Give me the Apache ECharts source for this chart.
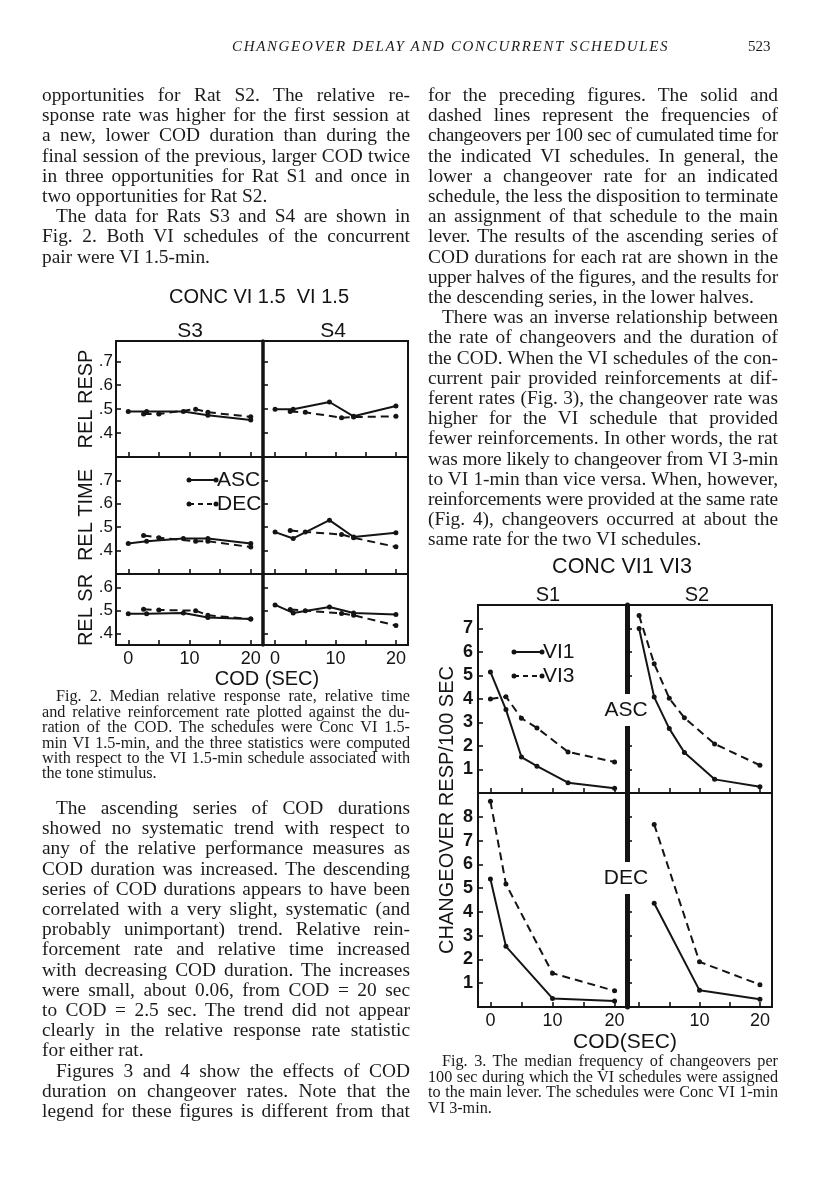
<!DOCTYPE html>
<html>
<head>
<meta charset="utf-8">
<script src="https://cdn.jsdelivr.net/npm/echarts@6/dist/echarts.min.js"></script>
<style>
  body { margin: 0; background: #fff; }
  #page { position: relative; width: 816px; height: 1200px; overflow: hidden;
          font-family: 'Liberation Serif', 'DejaVu Serif', serif; color: #1b1b1b; }
  .ln { position: absolute; text-align: justify; }
  #chart { position: absolute; left: 0; top: 0; width: 816px; height: 1200px; }
</style>
</head>
<body>
<div id="page">
  <div id="chart"></div>
</div>
<script>
// Fig. 2 -- median relative measures for S3 and S4 (COD in sec)
const f2AscCod = [0, 3, 9, 13, 20];
const f2DecCod = [2.5, 5, 11, 13, 20];
const s3RespAsc = [0.49, 0.49, 0.49, 0.475, 0.455];
const s3RespDec = [0.48, 0.48, 0.50, 0.487, 0.468];
const s4RespAsc = [0.50, 0.50, 0.53, 0.47, 0.513];
const s4RespDec = [0.49, 0.487, 0.464, 0.467, 0.47];
const s3TimeAsc = [0.43, 0.44, 0.452, 0.452, 0.43];
const s3TimeDec = [0.465, 0.455, 0.44, 0.44, 0.415];
const s4TimeAsc = [0.479, 0.452, 0.53, 0.458, 0.476];
const s4TimeDec = [0.486, 0.48, 0.469, 0.455, 0.416];
const s3SrAsc = [0.486, 0.486, 0.49, 0.47, 0.463];
const s3SrDec = [0.506, 0.503, 0.50, 0.48, 0.463];
const s4SrAsc = [0.525, 0.49, 0.516, 0.49, 0.483];
const s4SrDec = [0.505, 0.50, 0.488, 0.48, 0.435];
const relTicks = [0.4, 0.5, 0.6, 0.7];
const srTicks = [0.4, 0.5, 0.6];

// Fig. 3 -- changeovers per 100 sec, S1 and S2
const f3AscCod = [0, 2.5, 5, 7.5, 12.5, 20];
const s1AscVI1 = [5.15, 3.55, 1.53, 1.14, 0.44, 0.2];
const s1AscVI3 = [4.0, 4.1, 3.18, 2.77, 1.75, 1.32];
const s2AscVI1 = [7.0, 4.08, 2.74, 1.72, 0.58, 0.27];
const s2AscVI3 = [7.55, 5.5, 4.03, 3.2, 2.09, 1.18];
const s1DecCod = [0, 2.5, 10, 20];
const s1DecVI1 = [5.38, 2.55, 0.36, 0.25];
const s1DecVI3 = [8.65, 5.17, 1.42, 0.68];
const s2DecCod = [2.5, 10, 20];
const s2DecVI1 = [4.36, 0.7, 0.33];
const s2DecVI3 = [7.68, 1.9, 0.94];
const ascTicks = [1, 2, 3, 4, 5, 6, 7];
const decTicks = [1, 2, 3, 4, 5, 6, 7, 8];
const codTicks = [0, 5, 10, 15, 20];
const codLabels = [0, 10, 20];

const INK = '#141414';
const SANS = "'Liberation Sans', 'DejaVu Sans', sans-serif";
const SERIF = "'Liberation Serif', 'DejaVu Serif', serif";

// ---------- page text ----------
const paras = [
  { x: 42, y: 95, w: 368, indent: 0, lines: [
    'opportunities for Rat S2. The relative re-',
    'sponse rate was higher for the first session at',
    'a new, lower COD duration than during the',
    'final session of the previous, larger COD twice',
    'in three opportunities for Rat S1 and once in',
    'two opportunities for Rat S2.'] },
  { x: 42, y: 95 + 6 * 20.2, w: 368, indent: 14, lines: [
    'The data for Rats S3 and S4 are shown in',
    'Fig. 2. Both VI schedules of the concurrent',
    'pair were VI 1.5-min.'] },
  { x: 42, y: 697, w: 368, indent: 14, small: true, lines: [
    'Fig. 2. Median relative response rate, relative time',
    'and relative reinforcement rate plotted against the du-',
    'ration of the COD. The schedules were Conc VI 1.5-',
    'min VI 1.5-min, and the three statistics were computed',
    'with respect to the VI 1.5-min schedule associated with',
    'the tone stimulus.'] },
  { x: 42, y: 808, w: 368, indent: 14, lines: [
    'The ascending series of COD durations',
    'showed no systematic trend with respect to',
    'any of the relative performance measures as',
    'COD duration was increased. The descending',
    'series of COD durations appears to have been',
    'correlated with a very slight, systematic (and',
    'probably unimportant) trend. Relative rein-',
    'forcement rate and relative time increased',
    'with decreasing COD duration. The increases',
    'were small, about 0.06, from COD = 20 sec',
    'to COD = 2.5 sec. The trend did not appear',
    'clearly in the relative response rate statistic',
    'for either rat.'] },
  { x: 42, y: 808 + 13 * 20.2, w: 368, indent: 14, open: true, lines: [
    'Figures 3 and 4 show the effects of COD',
    'duration on changeover rates. Note that the',
    'legend for these figures is different from that'] },
  { x: 428, y: 95, w: 350, indent: 0, lines: [
    'for the preceding figures. The solid and',
    'dashed lines represent the frequencies of',
    'changeovers per 100 sec of cumulated time for',
    'the indicated VI schedules. In general, the',
    'lower a changeover rate for an indicated',
    'schedule, the less the disposition to terminate',
    'an assignment of that schedule to the main',
    'lever. The results of the ascending series of',
    'COD durations for each rat are shown in the',
    'upper halves of the figures, and the results for',
    'the descending series, in the lower halves.'] },
  { x: 428, y: 95 + 11 * 20.2, w: 350, indent: 14, lines: [
    'There was an inverse relationship between',
    'the rate of changeovers and the duration of',
    'the COD. When the VI schedules of the con-',
    'current pair provided reinforcements at dif-',
    'ferent rates (Fig. 3), the changeover rate was',
    'higher for the VI schedule that provided',
    'fewer reinforcements. In other words, the rat',
    'was more likely to changeover from VI 3-min',
    'to VI 1-min than vice versa. When, however,',
    'reinforcements were provided at the same rate',
    '(Fig. 4), changeovers occurred at about the',
    'same rate for the two VI schedules.'] },
  { x: 428, y: 1062, w: 350, indent: 14, small: true, lines: [
    'Fig. 3. The median frequency of changeovers per',
    '100 sec during which the VI schedules were assigned',
    'to the main lever. The schedules were Conc VI 1-min',
    'VI 3-min.'] }
];

const ctx = document.createElement('canvas').getContext('2d');
function textWidth(txt, size, style) {
  ctx.font = (style || '') + ' ' + size + 'px ' + SERIF;
  return ctx.measureText(txt).width;
}
// pick a size so that the justified lines are filled with ordinary word spacing
function fitSize(small) {
  const fits = [];
  paras.filter(p => !!p.small === small).forEach(p => p.lines.forEach((t, i) => {
    if (i === p.lines.length - 1 && !p.open) return;
    const w = p.w - (i === 0 ? p.indent : 0);
    fits.push(10 * w / textWidth(t, 10));
  }));
  fits.sort((a, b) => a - b);
  return fits[Math.floor(fits.length * 0.2)] * 0.99;
}
const bodySize = fitSize(false), capSize = fitSize(true);

const page = document.getElementById('page');
function addLine(txt, x, y, w, size, lh, justify, extra) {
  const d = document.createElement('div');
  d.className = 'ln';
  d.textContent = txt;
  Object.assign(d.style, { left: x + 'px', top: (y - lh / 2) + 'px', width: w + 'px',
    fontSize: size + 'px', lineHeight: lh + 'px', textAlignLast: justify ? 'justify' : 'left' }, extra || {});
  page.appendChild(d);
  const nat = textWidth(txt, size, extra && extra.fontStyle);
  if (nat > w - 1) d.style.letterSpacing = ((w - 1 - nat) / txt.length) + 'px';
  return d;
}
paras.forEach(p => {
  const size = p.small ? capSize : bodySize, lh = p.small ? 15.4 : 20.2;
  p.lines.forEach((t, i) => {
    const ind = i === 0 ? p.indent : 0;
    const last = i === p.lines.length - 1 && !p.open;
    addLine(t, p.x + ind, p.y + i * lh, p.w - ind, size, lh, !last);
  });
});
const head = 'CHANGEOVER DELAY AND CONCURRENT SCHEDULES';
addLine(head, 232, 46, 440, 15, 20, false,
  { fontStyle: 'italic', letterSpacing: ((436 - textWidth(head, 15, 'italic')) / (head.length - 1)) + 'px' });
addLine('523', 748, 46, 30, 15, 20, false);

// ---------- charts ----------
const grid = [], xAxis = [], yAxis = [], series = [];

function panel(box, yRange, yLabels, xLabels, divider, lines, fig3) {
  const i = grid.length;
  grid.push({ left: box[0], top: box[1], width: box[2], height: box[3], show: true,
    borderColor: INK, borderWidth: 2, backgroundColor: 'transparent' });
  xAxis.push({
    type: 'value', gridIndex: i, min: -2, max: 22, position: 'bottom',
    axisLine: { show: false, onZero: false }, splitLine: { show: false },
    axisTick: { show: true, inside: true, length: 5, customValues: codTicks, lineStyle: { color: INK, width: 1.6 } },
    axisLabel: xLabels ? { show: true, customValues: xLabels, margin: 5, color: INK,
      fontSize: 18, fontFamily: SANS } : { show: false }
  });
  const tickVals = fig3 ? fig3 : relTicks.filter(v => v > yRange[0] && v < yRange[1]);
  yAxis.push({
    type: 'value', gridIndex: i, min: yRange[0], max: yRange[1], position: 'left',
    axisLine: { show: !!divider, onZero: false, lineStyle: { color: INK, width: divider || 1 } },
    splitLine: { show: false },
    axisTick: { show: true, inside: true, length: 5, customValues: tickVals,
      lineStyle: { color: INK, width: 1.6 } },
    axisLabel: yLabels ? { show: true, customValues: yLabels, margin: fig3 ? 5 : 3, color: INK,
      fontSize: fig3 ? 18 : 17, fontWeight: fig3 ? 'bold' : 'normal', fontFamily: SANS,
      formatter: v => fig3 ? String(v) : v.toFixed(1).replace(/^0/, '') } : { show: false }
  });
  lines.forEach(l => series.push({
    type: 'line', xAxisIndex: i, yAxisIndex: i, animation: false,
    data: l.x.map((v, k) => [v, l.y[k]]),
    symbol: 'circle', symbolSize: 5, showSymbol: true, clip: false,
    lineStyle: { color: INK, width: 2, type: l.dash ? [8, 5] : 'solid' },
    itemStyle: { color: INK }
  }));
}
const A = (x, y) => ({ x, y });
const D = (x, y) => ({ x, y, dash: true });

// Fig. 2 panels
const L2 = 116, R2 = 263;
panel([L2, 341, 147, 116], [0.30, 0.785], relTicks, null, 0, [A(f2AscCod, s3RespAsc), D(f2DecCod, s3RespDec)]);
panel([R2, 341, 145, 116], [0.30, 0.785], null, null, 3.5, [A(f2AscCod, s4RespAsc), D(f2DecCod, s4RespDec)]);
panel([L2, 457, 147, 117], [0.30, 0.80], relTicks, null, 0, [A(f2AscCod, s3TimeAsc), D(f2DecCod, s3TimeDec)]);
panel([R2, 457, 145, 117], [0.30, 0.80], null, null, 3.5, [A(f2AscCod, s4TimeAsc), D(f2DecCod, s4TimeDec)]);
panel([L2, 574, 147, 71], [0.35, 0.66], srTicks, codLabels, 0, [A(f2AscCod, s3SrAsc), D(f2DecCod, s3SrDec)]);
panel([R2, 574, 145, 71], [0.35, 0.66], null, codLabels, 3.5, [A(f2AscCod, s4SrAsc), D(f2DecCod, s4SrDec)]);

// Fig. 3 panels
const L3 = 478, R3 = 627;
panel([L3, 605, 149, 188], [0, 8], ascTicks, null, 0, [A(f3AscCod, s1AscVI1), D(f3AscCod, s1AscVI3)], ascTicks);
panel([R3, 605, 145, 188], [0, 8], null, null, 5, [A(f3AscCod, s2AscVI1), D(f3AscCod, s2AscVI3)], ascTicks);
panel([L3, 793, 149, 214], [0, 9], decTicks, codLabels, 0, [A(s1DecCod, s1DecVI1), D(s1DecCod, s1DecVI3)], decTicks);
panel([R3, 793, 145, 214], [0, 9], null, [10, 20], 5, [A(s2DecCod, s2DecVI1), D(s2DecCod, s2DecVI3)], decTicks);

function T(x, y, text, size, o) {
  o = o || {};
  return { type: 'text', x, y, rotation: o.rot || 0, z: 100,
    style: { text, fill: INK, font: (o.weight || 'normal') + ' ' + size + 'px ' + SANS,
      align: o.align || 'center', verticalAlign: 'middle',
      backgroundColor: o.bg, padding: o.pad } };
}
function key(x1, x2, y, dash, label) {
  return [
    { type: 'line', z: 100, shape: { x1, y1: y, x2, y2: y },
      style: { stroke: INK, lineWidth: 2, lineDash: dash ? [5, 4] : null } },
    { type: 'circle', z: 100, shape: { cx: x1, cy: y, r: 2.5 }, style: { fill: INK } },
    { type: 'circle', z: 100, shape: { cx: x2, cy: y, r: 2.5 }, style: { fill: INK } },
    T(x2 + 1, y, label, 21, { align: 'left' })
  ];
}
const vert = Math.PI / 2;
const elements = [
  T(259, 297, 'CONC VI 1.5  VI 1.5', 20),
  T(190, 331, 'S3', 21), T(333, 331, 'S4', 21),
  T(86, 399, 'REL RESP', 20, { rot: vert }),
  T(86, 515, 'REL TIME', 20, { rot: vert }),
  T(86, 610, 'REL SR', 20, { rot: vert }),
  T(267, 679, 'COD (SEC)', 20),
  ...key(189, 216, 480, false, 'ASC'),
  ...key(189, 216, 504, true, 'DEC'),
  T(622, 567, 'CONC VI1 VI3', 21.5),
  T(548, 595, 'S1', 20), T(697, 595, 'S2', 20),
  T(447, 810, 'CHANGEOVER RESP/100 SEC', 20, { rot: vert }),
  T(626, 710, 'ASC', 21, { bg: '#fff', pad: [6, 0, 5, 0] }),
  T(626, 878, 'DEC', 21, { bg: '#fff', pad: [6, 0, 5, 0] }),
  ...key(514, 542, 652, false, 'VI1'),
  ...key(514, 542, 676, true, 'VI3'),
  T(625, 1042, 'COD(SEC)', 21)
];

const chart = echarts.init(document.getElementById('chart'), null, { renderer: 'canvas' });
chart.setOption({
  animation: false,
  backgroundColor: 'transparent',
  grid, xAxis, yAxis, series,
  graphic: { elements }
});
</script>
</body>
</html>
